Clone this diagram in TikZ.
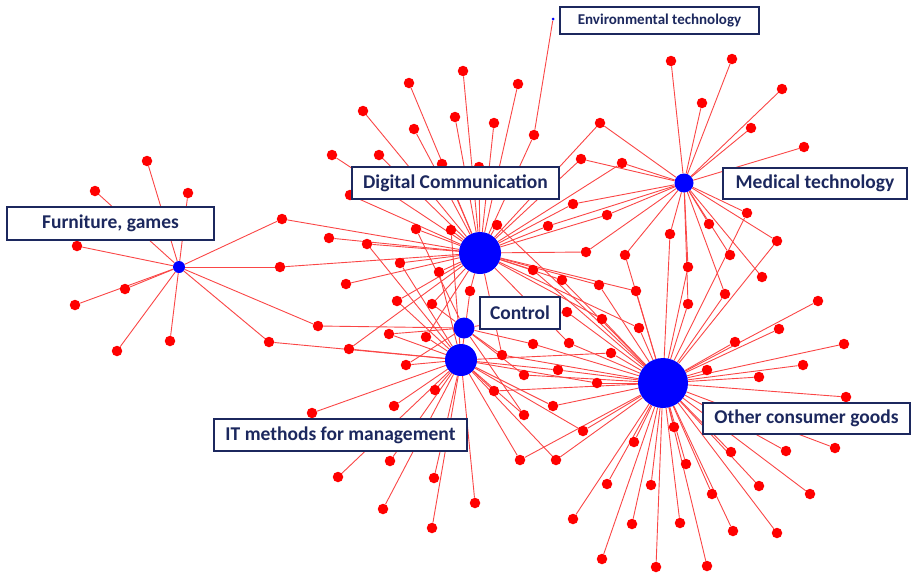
\documentclass[tikz,border=0pt]{standalone}
\usepackage{fontspec}
\newfontfamily\calib{Carlito}
\usetikzlibrary{backgrounds}
\definecolor{navy}{RGB}{28,40,94}
\definecolor{hubblue}{RGB}{0,0,255}
\definecolor{linkred}{RGB}{250,70,70}
\tikzstyle{spoke}=[circle,fill=red,inner sep=0pt,minimum size=10.5pt]
\tikzstyle{hub}=[circle,fill=hubblue,inner sep=0pt]
\tikzstyle{link}=[linkred,line width=0.9pt]
\tikzstyle{lbl}=[draw=navy,line width=1.4pt,fill=white,text=navy,inner sep=0pt,
  font=\calib\bfseries\fontsize{19.5}{22}\selectfont,minimum height=32pt]

% name/x/y/{hubs it is linked to}
\def\spokes{f1/147/161/{furn},f2/95/191/{furn},f3/188/193/{furn},f4/77/246/{furn},
f5/125/289/{furn},f6/75/305/{furn},f7/117/351/{furn},f8/170/341/{furn},
f9/282/219/{furn,digi},f10/280/267/{furn,digi},f11/269/342/{furn,itm},f12/318/326/{furn,ctrl},
d1/332/155/{digi},d2/363/111/{digi},d3/379/155/{digi},d4/409/83/{digi},d5/414/129/{digi},
d6/442/164/{digi},d7/455/117/{digi},d8/463/71/{digi},d9/494/123/{digi},d10/518/84/{digi},
d11/534/135/{digi,env},d12/479/167/{digi},d13/350/195/{digi},d14/600/123/{digi,med},
d15/581/159/{digi,med},d16/622/163/{digi,med},
d17/329/238/{digi},d18/367/244/{digi,itm},d19/416/229/{digi,ctrl},d20/451/230/{digi,itm},
d21/497/225/{digi,other},d22/400/263/{digi,itm},d23/439/272/{digi,itm},d24/346/284/{digi},
d25/397/301/{digi,itm},d26/432/304/{digi,ctrl},d27/470/291/{digi,itm},
i1/389/334/{itm,ctrl},i2/426/337/{itm,digi},i3/349/349/{itm,digi},i4/406/365/{itm,ctrl},
i5/312/413/{itm},i6/394/406/{itm},i7/435/390/{itm},i8/494/391/{itm,other},i9/390/461/{itm},
i10/338/477/{itm},i11/434/478/{itm},i12/475/503/{itm},i13/383/509/{itm},i14/432/528/{itm},
i15/524/415/{itm,ctrl},i16/553/406/{itm,other},i17/583/431/{itm,other},
i18/520/460/{itm,other},i19/556/460/{itm,other},
c1/502/355/{digi,ctrl,other},c2/533/344/{ctrl,other},c3/569/343/{digi,other},
c4/524/375/{ctrl,other},c5/558/370/{itm,other},c6/597/383/{itm,other},c7/602/319/{digi,other},
c8/567/312/{ctrl,other},c9/562/280/{digi,other},c10/533/270/{digi,other},c11/599/285/{digi,other},
c12/586/252/{digi,med},c13/548/226/{digi,med},c14/573/204/{digi,med},c15/607/215/{digi,med},
c16/625/255/{med,other},c17/636/291/{digi,other},c18/639/328/{digi,other},c19/611/353/{itm,other},
m1/671/61/{med},m2/732/59/{med},m3/702/103/{med},m4/782/89/{med},m5/751/128/{med},
m6/804/147/{med},m7/670/234/{med,other},m8/709/224/{med},m9/747/213/{med,other},
m10/777/241/{med,other},m11/688/267/{med,other},m12/730/255/{med},m13/762/277/{med},
m14/688/304/{med,other},m15/725/294/{med,other},
o1/818/301/{other},o2/779/329/{other},o3/735/342/{other},o4/844/344/{other},o5/707/370/{other},
o6/803/365/{other},o7/759/377/{other},o8/846/397/{other},o9/674/427/{other},o10/634/442/{other},
o11/686/464/{other},o12/731/452/{other},o13/786/451/{other},o14/835/448/{other},
o15/607/484/{other},o16/651/485/{other},o17/712/494/{other},o18/759/486/{other},
o19/810/494/{other},o20/632/524/{other},o21/680/523/{other},o22/733/531/{other},
o23/777/533/{other},o24/602/559/{other},o25/656/567/{other},o26/707/566/{other},o27/573/519/{other}}

\begin{document}
\begin{tikzpicture}[x=1pt,y=-1pt]
\useasboundingbox (0,0) rectangle (911,573);
% patent nodes
\foreach \n/\x/\y/\h in \spokes \node[spoke] (\n) at (\x,\y) {};
% fields
\node[hub,minimum size=12pt] (furn) at (179,267) {};
\node[hub,minimum size=42pt] (digi) at (480,253) {};
\node[hub,minimum size=21pt] (ctrl) at (464,328) {};
\node[hub,minimum size=32pt] (itm) at (461,360) {};
\node[hub,minimum size=50pt] (other) at (663,383) {};
\node[hub,minimum size=19pt] (med) at (684,183) {};
\node[hub,minimum size=3pt] (env) at (553,19) {};
% links
\begin{scope}[on background layer]
\foreach \n/\x/\y/\h in \spokes {\foreach \k in \h \draw[link] (\n)--(\k);}
\end{scope}
% labels
\node[lbl,minimum width=199pt,minimum height=27pt,font=\calib\bfseries\fontsize{15}{18}\selectfont] (envlbl) at (659.5,20.5) {Environmental technology};
\node[lbl,minimum width=207pt] (digilbl) at (455.5,183) {Digital Communication};
\node[lbl,minimum width=184pt,minimum height=31pt] (medlbl) at (815,183.5) {Medical technology};
\node[lbl,minimum width=207pt,minimum height=33pt] (furnlbl) at (110.5,223.5) {Furniture, games};
\node[lbl,minimum width=80pt] (ctrllbl) at (520,313) {Control};
\node[lbl,minimum width=253pt] (itmlbl) at (340.5,435) {IT methods for management};
\node[lbl,minimum width=207pt,minimum height=31pt] (othlbl) at (806.5,418.5) {Other consumer goods};
\end{tikzpicture}
\end{document}
